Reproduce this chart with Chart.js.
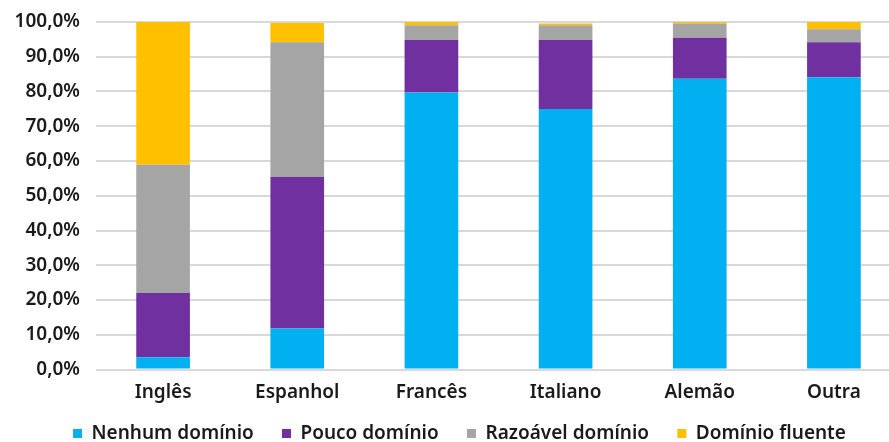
<!DOCTYPE html>
<html>
<head>
<meta charset="utf-8">
<script src="https://cdn.jsdelivr.net/npm/chart.js@4/dist/chart.umd.min.js"></script>
<style>
  html, body { margin: 0; padding: 0; overflow: hidden; background: #fff; }
  #wrap { width: 901px; height: 453px; }
</style>
</head>
<body>
<div id="wrap"><canvas id="chart"></canvas></div>
<script>
// categories (languages)
const languages = ['Inglês', 'Espanhol', 'Francês', 'Italiano', 'Alemão', 'Outra'];

// series values, in percent
const nenhum = [3.5, 11.8, 79.7, 75.0, 83.7, 84.1];
const pouco = [18.5, 43.6, 15.1, 19.8, 11.8, 10.1];
const razoavel = [36.9, 38.8, 4.3, 4.3, 4.1, 3.7];
const fluente = [41.1, 5.5, 0.9, 0.5, 0.4, 2.1];

const seriesNames = ['Nenhum domínio', 'Pouco domínio', 'Razoável domínio', 'Domínio fluente'];
const seriesColors = ['#00B0F0', '#7030A0', '#A5A5A5', '#FFC000'];

// y axis tick labels go 0,0% ... 100,0%
const yTicks = [0, 10, 20, 30, 40, 50, 60, 70, 80, 90, 100];

const font = { family: '"Noto Sans", sans-serif', size: 19, weight: '600' };

const allSeries = [nenhum, pouco, razoavel, fluente];

// legend sits a little right of the canvas centre in the original
const legendShift = {
    id: 'legendShift',
    afterLayout(chart) {
        chart.legend.left += 9;
        chart.legend.right += 9;
    }
};

new Chart(document.getElementById('chart'), {
    type: 'bar',
    plugins: [legendShift],
    data: {
        labels: languages,
        datasets: allSeries.map((vals, i) => ({
            label: seriesNames[i],
            data: vals,
            backgroundColor: seriesColors[i],
            barPercentage: 0.4,
            categoryPercentage: 1
        }))
    },
    options: {
        responsive: true,
        maintainAspectRatio: false,
        animation: false,
        layout: { padding: { top: 22, left: 0, right: 0, bottom: 0 } },
        plugins: {
            tooltip: { enabled: false },
            legend: {
                position: 'bottom',
                labels: {
                    color: '#1a1a1a',
                    font: font,
                    boxWidth: 9,
                    boxHeight: 9,
                    padding: 8.5,
                    // extra room after each name, like the original
                    generateLabels: (chart) => {
                        const items = Chart.defaults.plugins.legend.labels.generateLabels(chart);
                        items.forEach((it, i) => {
                            it.lineWidth = 0;
                            if (i < items.length - 1) it.text = it.text + '    ';
                        });
                        return items;
                    }
                }
            }
        },
        scales: {
            x: {
                stacked: true,
                grid: { display: false, drawTicks: false },
                border: { display: false },
                ticks: { color: '#1a1a1a', font: font, padding: 11.6 }
            },
            y: {
                stacked: true,
                min: 0,
                max: 100,
                afterFit: (scale) => {
                    scale.width = 96;
                    scale.paddingTop = 0;
                    scale.paddingBottom = 0;
                },
                afterBuildTicks: (scale) => {
                    scale.ticks = yTicks.map(v => ({ value: v }));
                },
                grid: { color: '#D9D9D9', lineWidth: 2, drawTicks: false },
                border: { display: false },
                ticks: {
                    color: '#1a1a1a',
                    font: font,
                    padding: 16,
                    callback: (v) => v.toFixed(1).replace('.', ',') + '%'
                }
            }
        }
    }
});
</script>
</body>
</html>
